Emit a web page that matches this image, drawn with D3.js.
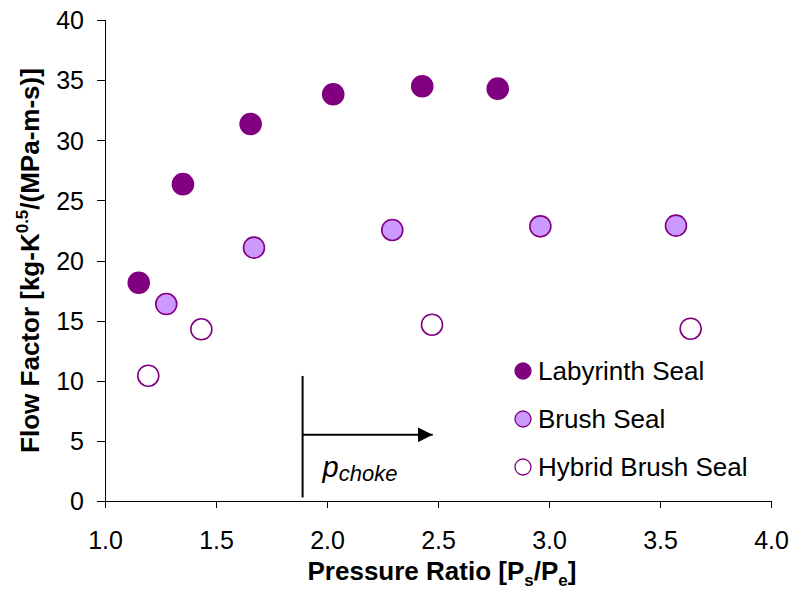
<!DOCTYPE html>
<html>
<head>
<meta charset="utf-8">
<script src="https://cdn.jsdelivr.net/npm/d3@7"></script>
<style>
  html, body { margin: 0; padding: 0; background: #fff; overflow: hidden; }
  svg { display: block; }
  text { font-family: Arial, "Liberation Sans", sans-serif; fill: #000; }
</style>
</head>
<body>
<div id="chart"></div>
<script>
// series data
const labyrinthX = [1.152, 1.351, 1.656, 2.028, 2.429, 2.769];
const labyrinthY = [18.15, 26.35, 31.35, 33.82, 34.49, 34.29];
const brushX = [1.276, 1.671, 2.294, 2.961, 3.572];
const brushY = [16.38, 21.07, 22.54, 22.84, 22.9];
const hybridX = [1.195, 1.434, 2.473, 3.638];
const hybridY = [10.42, 14.28, 14.66, 14.33];

const xTicks = [1.0, 1.5, 2.0, 2.5, 3.0, 3.5, 4.0];
const yTicks = [0, 5, 10, 15, 20, 25, 30, 35, 40];

// choke annotation (data units)
const chokeX = 1.89;
const chokeLineY = [0.3, 10.4];
const arrowY = 5.5;
const arrowEndX = 2.476;

const seriesNames = ["Labyrinth Seal", "Brush Seal", "Hybrid Brush Seal"];

const width = 791;
const height = 592;
const margin = { top: 20, right: 20, bottom: 91, left: 105 };
const innerWidth = width - margin.left - margin.right;
const innerHeight = height - margin.top - margin.bottom;

const purple = "#800080";
const styles = [
  { fill: purple, stroke: purple },
  { fill: "#cc99ff", stroke: purple },
  { fill: "#ffffff", stroke: purple }
];

const series = [
  labyrinthX.map((x, i) => ({ x, y: labyrinthY[i] })),
  brushX.map((x, i) => ({ x, y: brushY[i] })),
  hybridX.map((x, i) => ({ x, y: hybridY[i] }))
];

const svg = d3.select("#chart")
  .append("svg")
  .attr("width", width)
  .attr("height", height);

const inner = svg.append("g")
  .attr("transform", `translate(${margin.left}, ${margin.top})`);

const xScale = d3.scaleLinear().domain([1, 4]).range([0, innerWidth]);
const yScale = d3.scaleLinear().domain([0, 40]).range([innerHeight, 0]);

// axes
const xAxis = inner.append("g")
  .attr("transform", `translate(0, ${innerHeight})`)
  .call(d3.axisBottom(xScale).tickValues(xTicks).tickFormat(d3.format(".1f"))
    .tickSizeOuter(0).tickSize(7).tickPadding(23));

const yAxis = inner.append("g")
  .call(d3.axisLeft(yScale).tickValues(yTicks).tickSizeOuter(0).tickSize(8).tickPadding(13));

[xAxis, yAxis].forEach(ax => {
  ax.attr("font-family", "Arial, 'Liberation Sans', sans-serif").attr("font-size", 25);
  ax.select(".domain").attr("stroke", "#000").attr("shape-rendering", "crispEdges");
  ax.selectAll(".tick line").attr("stroke", "#000").attr("shape-rendering", "crispEdges");
  ax.selectAll(".tick text").attr("fill", "#000");
});
yAxis.selectAll(".tick text").attr("dy", "0.35em");

// axis titles
const xTitle = svg.append("text")
  .attr("x", margin.left + innerWidth / 2 + 4)
  .attr("y", 580)
  .attr("text-anchor", "middle")
  .attr("font-size", "26px")
  .attr("font-weight", "bold");
xTitle.append("tspan").text("Pressure Ratio [P");
xTitle.append("tspan").attr("font-size", "17px").attr("dy", 6).text("s");
xTitle.append("tspan").attr("dy", -6).text("/P");
xTitle.append("tspan").attr("font-size", "17px").attr("dy", 6).text("e");
xTitle.append("tspan").attr("dy", -6).text("]");

const yTitle = svg.append("text")
  .attr("transform", `translate(39, ${margin.top + innerHeight / 2}) rotate(-90)`)
  .attr("text-anchor", "middle")
  .attr("font-size", "26px")
  .attr("font-weight", "bold");
yTitle.append("tspan").text("Flow Factor [kg-K");
yTitle.append("tspan").attr("font-size", "17px").attr("dy", -11).text("0.5");
yTitle.append("tspan").attr("dy", 11).text("/(MPa-m-s)]");

// choke annotation
inner.append("line")
  .attr("x1", xScale(chokeX)).attr("x2", xScale(chokeX))
  .attr("y1", yScale(chokeLineY[0])).attr("y2", yScale(chokeLineY[1]))
  .attr("stroke", "#000").attr("stroke-width", 2);

svg.append("defs").append("marker")
  .attr("id", "arrow")
  .attr("viewBox", "0 0 10 10")
  .attr("refX", 10).attr("refY", 5)
  .attr("markerWidth", 7.5).attr("markerHeight", 7.5)
  .attr("markerUnits", "strokeWidth")
  .attr("orient", "auto")
  .append("path")
  .attr("d", "M0,0 L10,5 L0,10 Z")
  .attr("fill", "#000");

inner.append("line")
  .attr("x1", xScale(chokeX)).attr("x2", xScale(arrowEndX))
  .attr("y1", yScale(arrowY)).attr("y2", yScale(arrowY))
  .attr("stroke", "#000").attr("stroke-width", 2)
  .attr("marker-end", "url(#arrow)");

const pLabel = inner.append("text")
  .attr("x", xScale(chokeX) + 20)
  .attr("y", yScale(0) - 24)
  .attr("font-style", "italic")
  .attr("font-size", "29px");
pLabel.append("tspan").text("p");
pLabel.append("tspan").attr("font-size", "22px").attr("dy", 4).text("choke");

// points
series.forEach((pts, i) => {
  inner.append("g")
    .selectAll("circle")
    .data(pts)
    .join("circle")
    .attr("cx", d => xScale(d.x))
    .attr("cy", d => yScale(d.y))
    .attr("r", 10.5)
    .attr("fill", styles[i].fill)
    .attr("stroke", styles[i].stroke)
    .attr("stroke-width", 1.6);
});

// legend
const legend = svg.append("g").attr("transform", "translate(523, 371)");
seriesNames.forEach((name, i) => {
  const row = legend.append("g").attr("transform", `translate(0, ${i * 48})`);
  row.append("circle")
    .attr("r", 8)
    .attr("fill", styles[i].fill)
    .attr("stroke", styles[i].stroke)
    .attr("stroke-width", 1.3);
  row.append("text")
    .attr("x", 15)
    .attr("y", 9)
    .attr("font-size", "26px")
    .text(name);
});
</script>
</body>
</html>
